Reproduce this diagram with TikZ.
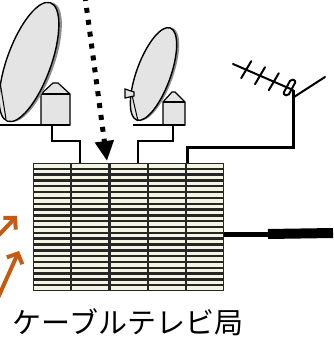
\documentclass[tikz,border=0pt]{standalone}
\usepackage{fontspec}
\newfontfamily\jpfont{Noto Sans CJK JP}
\usetikzlibrary{arrows.meta}
\usetikzlibrary{calc}
\definecolor{rackcream}{HTML}{F4F4E2}
\definecolor{dishgray}{HTML}{E4E4E4}
\definecolor{feedorange}{HTML}{C55A11}

\begin{document}
\begin{tikzpicture}[x=1pt,y=-1pt,
  cable/.style={line width=2.6pt},
  dish/.style={fill=dishgray,draw=black,line width=1.4pt},
  dishshadow/.style={fill=black!45},
  mount/.style={fill=dishgray,draw=black,line width=1.2pt},
  yagi/.style={line width=2pt,line cap=round},
  uplink/.style={draw=feedorange,line width=4pt,-{Straight Barb[length=8pt,width=17pt]}}]
\useasboundingbox (0,0) rectangle (333,347);

% big dish on the left
\filldraw[mount] (41,125) -- (41,94) -- (53,83) -- (58,83) -- (70,94) -- (70,125) -- cycle;
\draw[line width=1.2pt] (41,94) -- (70,94);
\draw[line width=1.2pt] (0,125) -- (70,125);
\fill[dishshadow,rotate around={70:(32,62)}] (32,62) ellipse [x radius=63pt, y radius=22pt];
\filldraw[dish,rotate around={70:(29,62)}] (29,62) ellipse [x radius=63pt, y radius=22pt];
\draw[line width=1pt] (0,82) -- (6,119);

% small dish
\filldraw[mount] (163,125) -- (163,102) -- (172,92) -- (175,92) -- (185,102) -- (185,125) -- cycle;
\draw[line width=1.2pt] (163,102) -- (185,102);
\draw[line width=1.2pt] (133,125) -- (185,125);
\fill[dishshadow,rotate around={70:(156,74)}] (156,74) ellipse [x radius=49pt, y radius=17pt];
\filldraw[dish,rotate around={70:(153.5,74)}] (153.5,74) ellipse [x radius=49pt, y radius=17pt];
\draw[line width=1pt] (132,95) -- (138,121);
\filldraw[mount] (125,89) -- (134,92) -- (134,96) -- (125,98) -- cycle;

% yagi antenna
\draw[yagi] (233,64) -- (293,90);
\foreach \t in {0.22,0.45,0.68}
  \draw[yagi] ($(233,64)!\t!(293,90)$) ++(-5,8.5) -- ++(10,-17);
\draw[yagi,rounded corners=2pt] (283,94) -- (291,79) -- (296,81) -- (288,96) -- cycle;
\draw[yagi] (294,97) -- (325,77);

% feed points on top of the head end
\coordinate (dishAfoot) at (52,125);
\coordinate (dishBfoot) at (173,125);
\coordinate (mastfoot) at (293,90);
\coordinate (inA) at (80,163);
\coordinate (inB) at (138,163);
\coordinate (inC) at (187,163);
\coordinate (sky) at (85,-4);
\coordinate (inD) at (107,161);

% head end rack
\node[fill=black!85,inner sep=0pt,minimum width=191pt,minimum height=128pt] (station) at (128.5,227) {};
\foreach \c in {0,...,4}
  \foreach \r in {0,...,21}
    \fill[rackcream] ({33+\c*38.2+1.1},{163+\r*5.82+1.2}) rectangle ({33+(\c+1)*38.2-1.1},{163+(\r+1)*5.82-1.2});

\draw[cable] (dishAfoot) -- ++(0,16) -| (inA);
\draw[cable] (dishBfoot) -- ++(0,16) -| (inB);
\draw[line width=3pt] (mastfoot) -- ++(0,58) -| (inC);

% trunk line out of the station
\coordinate (trunk) at (270,234);
\coordinate (farend) at (333,233);
\draw[line width=5pt] (station.east |- trunk) -- (trunk);
\draw[line width=10pt] ([xshift=-2pt]trunk) -- (farend);

\draw[line width=5pt,dash pattern=on 5pt off 7pt,-{Triangle[length=20pt,width=18pt]}] (sky) -- (inD);

\coordinate (srcE) at (-4,238);
\coordinate (inE) at (17,216);
\coordinate (srcF) at (-3,300);
\coordinate (inF) at (19,251);
\draw[uplink] (srcE) -- (inE);
\draw[uplink] (srcF) -- (inF);

\node[font=\jpfont\fontsize{29}{29}\selectfont,inner sep=0pt] (label) at (128,322) {ケーブルテレビ局};
\end{tikzpicture}
\end{document}
